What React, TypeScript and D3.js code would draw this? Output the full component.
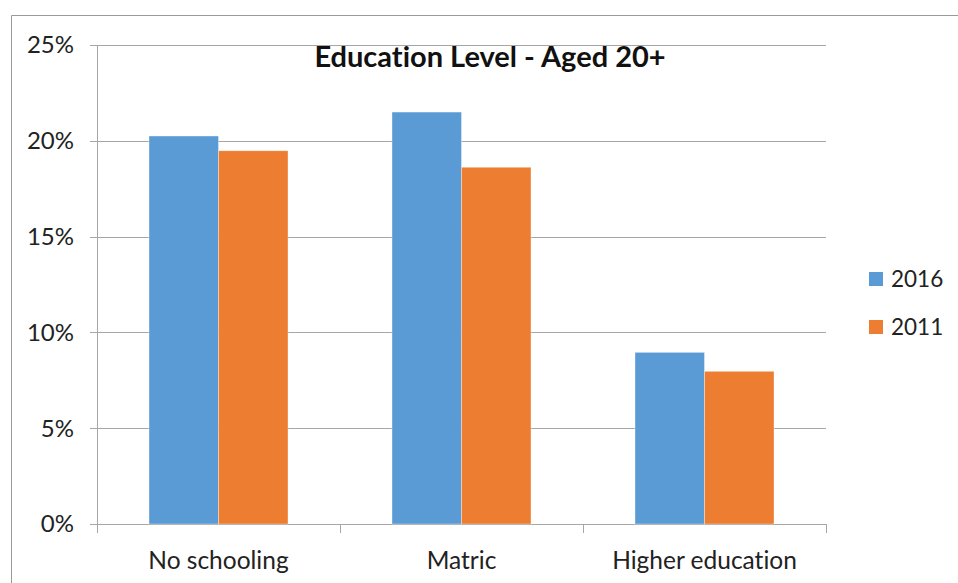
import React from "react";
import * as d3 from "d3";

const categories = ["No schooling", "Matric", "Higher education"];
const seriesNames = ["2016", "2011"];
const values2016 = [20.25, 21.5, 8.96];
const values2011 = [19.48, 18.62, 7.97];
const yTicks = [0, 5, 10, 15, 20, 25];
const colors = ["#5B9BD5", "#ED7D31"];
const title = "Education Level - Aged 20+";

export default function App() {
  const W = 958, H = 583;
  const left = 97, right = 826, top = 45, bottom = 524;
  const font = "Lato, 'Open Sans', sans-serif";
  const x = d3.scaleBand<string>().domain(categories).range([left, right]).paddingInner(0.428).paddingOuter(0.214);
  const x1 = d3.scaleBand<string>().domain(seriesNames).range([0, x.bandwidth()]);
  const y = d3.scaleLinear().domain([0, 25]).range([bottom, top]);
  const series = [values2016, values2011];
  const step = x.step();
  const bounds = d3.range(categories.length + 1).map((i) => left + i * step);
  return (
    <svg width={W} height={H} style={{ position: "absolute", left: 0, top: 0, display: "block", fontVariantLigatures: "none" }}>
      <rect x={0} y={0} width={W} height={H} fill="#fff" />
      <path d={`M11.5,${H} V15.5 H${W}`} fill="none" stroke="#9a9a9a" strokeWidth={1} />
      {yTicks.map((t) => (
        <g key={t}>
          <line x1={90} x2={right} y1={Math.round(y(t)) + 0.5} y2={Math.round(y(t)) + 0.5} stroke="#a6a6a6" strokeWidth={1} />
          <text x={74} y={y(t)} dy="0.35em" textAnchor="end" fontFamily={font} fontSize={24} fill="#222">{t}%</text>
        </g>
      ))}
      <line x1={left + 0.5} x2={left + 0.5} y1={top} y2={bottom + 9} stroke="#a6a6a6" />
      {bounds.slice(1).map((b, i) => (
        <line key={i} x1={Math.round(b) + 0.5} x2={Math.round(b) + 0.5} y1={bottom} y2={bottom + 9} stroke="#a6a6a6" />
      ))}
      {categories.map((c, ci) => (
        <g key={c}>
          {series.map((vals, si) => (
            <rect
              key={si}
              x={(x(c) as number) + (x1(seriesNames[si]) as number)}
              y={y(vals[ci])}
              width={x1.bandwidth()}
              height={bottom - y(vals[ci])}
              fill={colors[si]}
              stroke="#ffffff"
              strokeOpacity={0.5}
              strokeWidth={0.7}
            />
          ))}
          <text x={(x(c) as number) + x.bandwidth() / 2} y={560} dy="0.35em" textAnchor="middle" fontFamily={font} fontSize={24.5} fill="#222">{c}</text>
        </g>
      ))}
      <text x={490} y={57} dy="0.35em" textAnchor="middle" fontFamily={font} fontWeight="bold" fontSize={29} fill="#111" style={{ fontVariantLigatures: "none" }}>{title}</text>
      {seriesNames.map((s, i) => (
        <g key={s}>
          <rect x={869} y={272 + i * 48} width={14} height={14} fill={colors[i]} />
          <text x={891} y={279 + i * 48} dy="0.35em" fontFamily={font} fontSize={22.5} fill="#222">{s}</text>
        </g>
      ))}
    </svg>
  );
}
